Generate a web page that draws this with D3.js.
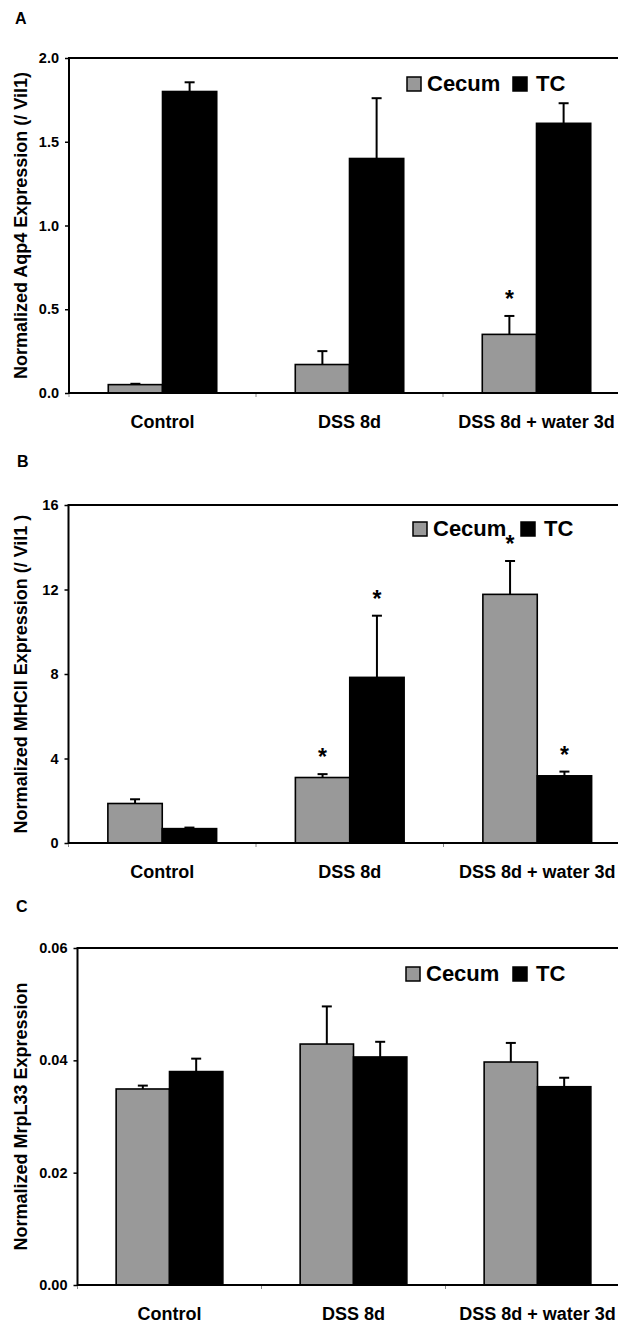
<!DOCTYPE html>
<html>
<head>
<meta charset="utf-8">
<script src="https://cdn.jsdelivr.net/npm/d3@7"></script>
<style>
  body { margin: 0; background: #fff; }
  svg text { font-family: "Liberation Sans", Arial, sans-serif; font-weight: bold; fill: #000; }
</style>
</head>
<body>
<script>
var categories = ["Control", "DSS 8d", "DSS 8d + water 3d"];
var seriesNames = ["Cecum", "TC"];

// A: Aqp4
var aqp4Cecum = [0.05, 0.17, 0.35];
var aqp4CecumErr = [0.005, 0.08, 0.11];
var aqp4Tc = [1.80, 1.40, 1.61];
var aqp4TcErr = [0.055, 0.36, 0.12];
var aqp4CecumStar = [false, false, true];
var aqp4TcStar = [false, false, false];
var aqp4Ticks = [0, 0.5, 1.0, 1.5, 2.0];

// B: MHCII
var mhcCecum = [1.87, 3.10, 11.77];
var mhcCecumErr = [0.20, 0.16, 1.58];
var mhcTc = [0.68, 7.84, 3.18];
var mhcTcErr = [0.05, 2.92, 0.20];
var mhcCecumStar = [false, true, true];
var mhcTcStar = [false, true, true];
var mhcTicks = [0, 4, 8, 12, 16];

// C: MrpL33
var mrpCecum = [0.0349, 0.0429, 0.0397];
var mrpCecumErr = [0.0006, 0.0067, 0.0034];
var mrpTc = [0.0380, 0.0406, 0.0353];
var mrpTcErr = [0.0023, 0.0027, 0.0016];
var mrpCecumStar = [false, false, false];
var mrpTcStar = [false, false, false];
var mrpTicks = [0, 0.02, 0.04, 0.06];

var width = 618, height = 1324;
var colors = { Cecum: "#999999", TC: "#000000" };

var svg = d3.select("body").append("svg")
    .attr("width", width)
    .attr("height", height);

function rows(cecum, cecumErr, tc, tcErr, cStar, tStar) {
  return categories.map(function(c, i) {
    return {
      cat: c,
      bars: [
        { s: "Cecum", v: cecum[i], e: cecumErr[i], star: cStar[i] },
        { s: "TC", v: tc[i], e: tcErr[i], star: tStar[i] }
      ]
    };
  });
}

var panels = [
  { label: "A", title: "Normalized Aqp4 Expression (/ Vil1)", ticks: aqp4Ticks, fmt: d3.format(".1f"),
    data: rows(aqp4Cecum, aqp4CecumErr, aqp4Tc, aqp4TcErr, aqp4CecumStar, aqp4TcStar),
    left: 69, top: 58, bottom: 393, band: 187, labelPos: [15, 24], legend: [407, 77, 513] },
  { label: "B", title: "Normalized MHCII Expression (/ Vil1 )", ticks: mhcTicks, fmt: d3.format("d"),
    data: rows(mhcCecum, mhcCecumErr, mhcTc, mhcTcErr, mhcCecumStar, mhcTcStar),
    left: 68.5, top: 505, bottom: 843, band: 187.5, labelPos: [17, 467], legend: [413, 522, 521] },
  { label: "C", title: "Normalized MrpL33 Expression", ticks: mrpTicks, fmt: d3.format(".2f"),
    data: rows(mrpCecum, mrpCecumErr, mrpTc, mrpTcErr, mrpCecumStar, mrpTcStar),
    left: 77.5, top: 948, bottom: 1285, band: 184, labelPos: [16, 912], legend: [406, 967, 513] }
];

panels.forEach(function(p) {
  var g = svg.append("g");
  var right = p.left + p.band * categories.length;

  var y = d3.scaleLinear()
      .domain([0, d3.max(p.ticks)])
      .range([p.bottom, p.top]);

  var x0 = d3.scaleBand()
      .domain(categories)
      .range([p.left, right]);

  var bw = x0.bandwidth();
  var x1 = d3.scaleBand()
      .domain(seriesNames)
      .range([bw * 0.21, bw * 0.79]);

  // bars
  var groups = g.selectAll("g.cat")
      .data(p.data)
      .enter()
      .append("g")
      .attr("transform", function(d) { return "translate(" + x0(d.cat) + ",0)"; });

  var bars = groups.selectAll("g.bar")
      .data(function(d) { return d.bars; })
      .enter()
      .append("g");

  // error bars (upper only)
  bars.append("line")
      .attr("x1", function(d) { return x1(d.s) + x1.bandwidth() / 2; })
      .attr("x2", function(d) { return x1(d.s) + x1.bandwidth() / 2; })
      .attr("y1", function(d) { return y(d.v); })
      .attr("y2", function(d) { return y(d.v + d.e); })
      .attr("stroke", "#000")
      .attr("stroke-width", 2);

  bars.append("line")
      .attr("x1", function(d) { return x1(d.s) + x1.bandwidth() / 2 - 5; })
      .attr("x2", function(d) { return x1(d.s) + x1.bandwidth() / 2 + 5; })
      .attr("y1", function(d) { return y(d.v + d.e); })
      .attr("y2", function(d) { return y(d.v + d.e); })
      .attr("stroke", "#000")
      .attr("stroke-width", 2);

  bars.append("rect")
      .attr("x", function(d) { return x1(d.s); })
      .attr("y", function(d) { return y(d.v); })
      .attr("width", x1.bandwidth())
      .attr("height", function(d) { return y(0) - y(d.v); })
      .attr("fill", function(d) { return colors[d.s]; })
      .attr("stroke", "#000")
      .attr("stroke-width", 1.6);

  bars.filter(function(d) { return d.star; })
      .append("text")
      .attr("x", function(d) { return x1(d.s) + x1.bandwidth() / 2; })
      .attr("y", function(d) { return y(d.v + d.e) - 22 + 13; })
      .attr("text-anchor", "middle")
      .style("font-size", "23px")
      .text("*");

  // y axis
  var yAxis = d3.axisLeft(y)
      .tickValues(p.ticks)
      .tickFormat(p.fmt)
      .tickSize(4)
      .tickPadding(6);

  var ya = g.append("g")
      .attr("transform", "translate(" + p.left + ",0)")
      .call(yAxis);
  ya.select(".domain").remove();
  ya.selectAll("line").attr("stroke", "#000").attr("stroke-width", 1.5);
  ya.selectAll("text")
      .style("font-size", "14.5px")
      .style("font-family", "'Liberation Sans', Arial, sans-serif")
      .style("font-weight", "bold");

  // small category ticks on the x axis
  g.selectAll("line.xt")
      .data(d3.range(categories.length))
      .enter()
      .append("line")
      .attr("x1", function(i) { return x0(categories[i]); })
      .attr("x2", function(i) { return x0(categories[i]); })
      .attr("y1", p.bottom)
      .attr("y2", p.bottom + 4)
      .attr("stroke", "#888")
      .attr("stroke-width", 1);

  // frame
  g.append("rect")
      .attr("x", p.left)
      .attr("y", p.top)
      .attr("width", right - p.left)
      .attr("height", p.bottom - p.top)
      .attr("fill", "none")
      .attr("stroke", "#000")
      .attr("stroke-width", 2);

  // category labels
  g.selectAll("text.cat")
      .data(categories)
      .enter()
      .append("text")
      .attr("x", function(d) { return x0(d) + bw / 2; })
      .attr("y", p.bottom + 35)
      .attr("text-anchor", "middle")
      .style("font-size", "18px")
      .text(function(d) { return d; });

  // y title
  g.append("text")
      .attr("transform", "translate(27," + (p.top + p.bottom) / 2 + ") rotate(-90)")
      .attr("text-anchor", "middle")
      .style("font-size", "18px")
      .text(p.title);

  // panel letter
  g.append("text")
      .attr("x", p.labelPos[0])
      .attr("y", p.labelPos[1])
      .style("font-size", "16px")
      .text(p.label);

  // legend
  var lx = [p.legend[0], p.legend[2]];
  var leg = g.selectAll("g.leg")
      .data(seriesNames)
      .enter()
      .append("g")
      .attr("transform", function(d, i) { return "translate(" + lx[i] + "," + p.legend[1] + ")"; });
  leg.append("rect")
      .attr("width", 14)
      .attr("height", 14)
      .attr("fill", function(d) { return colors[d]; })
      .attr("stroke", "#000")
      .attr("stroke-width", 1.5);
  leg.append("text")
      .attr("x", function(d, i) { return i === 0 ? 20 : 23; })
      .attr("y", 14)
      .style("font-size", "22px")
      .text(function(d) { return d; });
});
</script>
</body>
</html>
